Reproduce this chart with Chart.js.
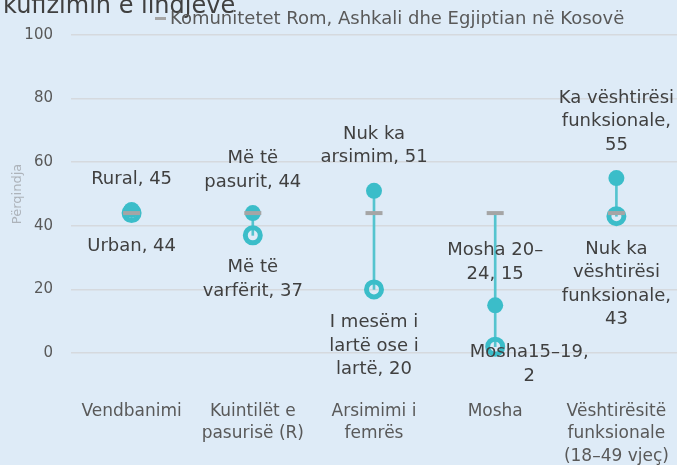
<!DOCTYPE html>
<html lang="sq">
<head>
    <meta charset="UTF-8">
    <title>Komunitetet Rom, Ashkali dhe Egjiptian në Kosovë</title>
    <script src="https://cdn.jsdelivr.net/npm/chart.js"></script>
    <style>
        body {
            margin: 0;
            background: #deebf7;
        }
        .chart-container {
            position: relative;
            width: 677px;
            height: 465px;
        }
    </style>
</head>
<body>
    <div class="chart-container">
        <canvas id="dotChart"></canvas>
    </div>

    <script>
        // Data
        const categories = [
            ['Vendbanimi'],
            ['Kuintilët e', 'pasurisë (R)'],
            ['Arsimimi i', 'femrës'],
            ['Mosha'],
            ['Vështirësitë', 'funksionale', '(18–49 vjeç)']
        ];
        const nationalLabel = 'Komunitetet Rom, Ashkali dhe Egjiptian në Kosovë';
        const nationalValues = [44, 44, 44, 44, 44];
        const highValues = [45, 44, 51, 15, 55];
        const lowValues = [44, 37, 20, 2, 43];
        const highLabels = ['Rural, 45', 'Më të\npasurit, 44', 'Nuk ka\narsimim, 51', 'Mosha 20–\n24, 15', 'Ka vështirësi\nfunksionale,\n55'];
        const lowLabels = ['Urban, 44', 'Më të\nvarfërit, 37', 'I mesëm i\nlartë ose i\nlartë, 20', 'Mosha15–19,\n2', 'Nuk ka\nvështirësi\nfunksionale,\n43'];
        const yTicks = [0, 20, 40, 60, 80, 100];
        const titleText = 'kufizimin e lindjeve';

        const FONT = "'DejaVu Sans', sans-serif";
        const TEAL = '#3bbdc9';
        const GREY = '#a5a5a5';
        const BG = '#deebf7';

        // high-low line spans all three series
        const rangeValues = nationalValues.map((v, i) => {
            const vals = [v, highValues[i], lowValues[i]];
            return [Math.min(...vals), Math.max(...vals)];
        });

        // label offsets from the point (dx, dy of first/last line centre)
        const highShift = [[0, -31], [0, -31], [0, -33], [0, -31], [0, -33]];
        const lowShift = [[0, 33], [0, 32], [0, 33], [34, 6], [0, 33]];
        const LINE_H = 23.5;

        const backgroundPlugin = {
            id: 'background',
            beforeDraw(chart) {
                const ctx = chart.ctx;
                ctx.save();
                ctx.fillStyle = BG;
                ctx.fillRect(0, 0, chart.width, chart.height);
                ctx.restore();
            }
        };

        // title (cut off by the top edge, as in the original) and legend
        const headerPlugin = {
            id: 'header',
            afterDraw(chart) {
                const ctx = chart.ctx;
                ctx.save();
                ctx.font = '24px ' + FONT;
                ctx.fillStyle = '#404040';
                ctx.textBaseline = 'alphabetic';
                ctx.textAlign = 'left';
                ctx.fillText(titleText, 3, 12.5);

                // legend entry for the grey dash series
                ctx.strokeStyle = GREY;
                ctx.lineWidth = 3;
                ctx.beginPath();
                ctx.moveTo(155, 18.5);
                ctx.lineTo(166, 18.5);
                ctx.stroke();
                ctx.font = '18px ' + FONT;
                ctx.fillStyle = '#595959';
                ctx.textBaseline = 'middle';
                ctx.fillText(chart.data.datasets[0].label, 170, 19);
                ctx.restore();
            }
        };

        const pointLabels = {
            id: 'pointLabels',
            afterDatasetsDraw(chart) {
                const ctx = chart.ctx;
                ctx.save();
                ctx.font = '18px ' + FONT;
                ctx.fillStyle = '#404040';
                ctx.textAlign = 'center';
                ctx.textBaseline = 'middle';
                const highPts = chart.getDatasetMeta(1).data;
                const lowPts = chart.getDatasetMeta(2).data;
                highLabels.forEach((txt, i) => {
                    const lines = txt.split('\n');
                    const x = highPts[i].x + highShift[i][0];
                    const yLast = highPts[i].y + highShift[i][1];
                    lines.forEach((line, k) => {
                        ctx.fillText(line, x, yLast - (lines.length - 1 - k) * LINE_H);
                    });
                });
                lowLabels.forEach((txt, i) => {
                    const lines = txt.split('\n');
                    const x = lowPts[i].x + lowShift[i][0];
                    const yFirst = lowPts[i].y + lowShift[i][1];
                    lines.forEach((line, k) => {
                        ctx.fillText(line, x, yFirst + k * LINE_H);
                    });
                });
                ctx.restore();
            }
        };

        const ctx = document.getElementById('dotChart').getContext('2d');
        const chart = new Chart(ctx, {
            type: 'bar',
            data: {
                labels: categories,
                datasets: [
                    {
                        type: 'line',
                        label: nationalLabel,
                        data: nationalValues,
                        showLine: false,
                        pointStyle: 'line',
                        pointRadius: 8.5,
                        pointBorderWidth: 4,
                        pointBorderColor: GREY,
                        borderColor: GREY,
                        backgroundColor: GREY,
                        clip: false
                    },
                    {
                        type: 'line',
                        label: 'high',
                        data: highValues,
                        showLine: false,
                        pointRadius: 8,
                        pointBorderWidth: 0,
                        pointBackgroundColor: TEAL,
                        clip: false
                    },
                    {
                        type: 'line',
                        label: 'low',
                        data: lowValues,
                        showLine: false,
                        pointRadius: 7.5,
                        pointBorderWidth: 5,
                        pointBorderColor: TEAL,
                        pointBackgroundColor: 'rgba(0,0,0,0)',
                        clip: false
                    },
                    {
                        type: 'bar',
                        label: 'range',
                        data: rangeValues,
                        backgroundColor: '#55c4cf',
                        borderWidth: 0,
                        barThickness: 2,
                        grouped: false
                    }
                ]
            },
            options: {
                responsive: true,
                maintainAspectRatio: false,
                animation: false,
                events: [],
                layout: {
                    autoPadding: false,
                    padding: { top: 35, right: 0, bottom: 0, left: 0 }
                },
                plugins: {
                    tooltip: { enabled: false },
                    legend: { display: false }
                },
                scales: {
                    x: {
                        offset: true,
                        grid: { display: false },
                        border: { display: false },
                        ticks: {
                            color: '#595959',
                            font: { family: FONT, size: 17, lineHeight: 1.32 },
                            padding: 39,
                            maxRotation: 0,
                            autoSkip: false
                        },
                        afterFit(scale) {
                            scale.height = 112;
                            scale.paddingLeft = 0;
                            scale.paddingRight = 0;
                        }
                    },
                    y: {
                        min: 0,
                        max: 100,
                        afterBuildTicks(scale) {
                            scale.ticks = yTicks.map(v => ({ value: v }));
                        },
                        grid: { color: '#d5d9de', lineWidth: 1.5, drawTicks: false },
                        border: { display: false },
                        ticks: {
                            color: '#595959',
                            font: { family: FONT, size: 15 },
                            padding: 18
                        },
                        title: {
                            display: true,
                            text: 'Përqindja',
                            color: '#adb3ba',
                            font: { family: FONT, size: 13 },
                            padding: { top: 10, bottom: 0 }
                        },
                        afterFit(scale) { scale.width = 71; }
                    }
                }
            },
            plugins: [backgroundPlugin, pointLabels, headerPlugin]
        });
    </script>
</body>
</html>
